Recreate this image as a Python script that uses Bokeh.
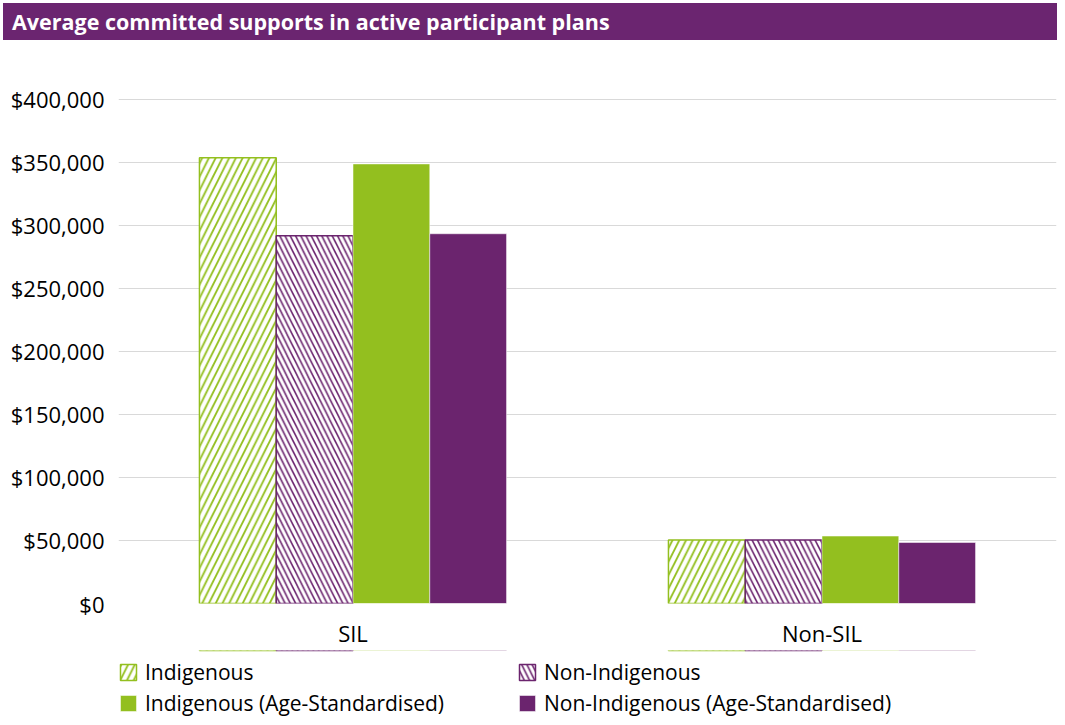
from bokeh.plotting import figure
from bokeh.models import (ColumnDataSource, Range1d, FactorRange, Legend, LegendItem,
                          NumeralTickFormatter, Div)
from bokeh.transform import dodge
from bokeh.layouts import column
from bokeh.embed import file_html
from bokeh.resources import INLINE

categories = ["SIL", "Non-SIL"]
indigenous = [353500, 50300]
non_indigenous = [291800, 50300]
indigenous_as = [348700, 53500]
non_indigenous_as = [293300, 48400]
series_labels = ["Indigenous", "Non-Indigenous",
                 "Indigenous (Age-Standardised)", "Non-Indigenous (Age-Standardised)"]
y_ticks = [0, 50000, 100000, 150000, 200000, 250000, 300000, 350000, 400000]

GREEN = "#93BF1F"
PURPLE = "#6B246E"
FONT = "Open Sans"

source = ColumnDataSource(dict(cat=categories, ind=indigenous, nonind=non_indigenous,
                               ind_as=indigenous_as, nonind_as=non_indigenous_as))

title = Div(text=('<div style="background:#6B2570;color:white;font-family:\'Open Sans\';'
                  'font-weight:bold;font-size:21.5px;height:37px;line-height:37px;'
                  'padding-left:9px;box-sizing:border-box;width:1054px;">'
                  'Average committed supports in active participant plans</div>'),
            width=1054, height=37, margin=(3, 0, 0, 3))

p = figure(x_range=FactorRange(*categories), y_range=Range1d(0, 400600),
           width=1057, height=610, output_backend="svg", toolbar_location=None,
           min_border_left=118, min_border_right=1, min_border_top=58, min_border_bottom=42)
p.outline_line_color = None

bw = 0.1637
offs = [-1.5 * bw, -0.5 * bw, 0.5 * bw, 1.5 * bw]
cols = ["ind", "nonind", "ind_as", "nonind_as"]

styles = [
    dict(fill_color="white", line_color=GREEN, line_width=1.5,
         hatch_pattern="/", hatch_color=GREEN, hatch_scale=13.5, hatch_weight=1.8),
    dict(fill_color="white", line_color=PURPLE, line_width=1.5,
         hatch_pattern="\\", hatch_color=PURPLE, hatch_scale=10.5, hatch_weight=1.6),
    dict(fill_color=GREEN, line_color="white", line_alpha=0.5, line_width=1),
    dict(fill_color=PURPLE, line_color="white", line_alpha=0.5, line_width=1),
]

for off, col, st in zip(offs, cols, styles):
    p.vbar(x=dodge("cat", off, range=p.x_range), top=col, width=bw, source=source, **st)

p.yaxis.ticker = y_ticks
p.yaxis.formatter = NumeralTickFormatter(format="$0,0")
for ax in (p.xaxis, p.yaxis):
    ax.axis_line_color = None
    ax.major_tick_line_color = None
    ax.minor_tick_line_color = None
    ax.major_label_text_font = FONT
    ax.major_label_text_font_size = "22px"
    ax.major_label_text_color = "#000000"
p.yaxis.major_label_standoff = 8
p.xaxis.major_label_standoff = 8
p.xgrid.grid_line_color = None
p.ygrid.grid_line_color = "#D9D9D9"
p.ygrid.grid_line_width = 1

# legend strip: a second figure whose y range lies away from its bars, so only the legend shows
lg = figure(width=1057, height=67, x_range=FactorRange(*categories),
            y_range=Range1d(-500000, -400000),
            output_backend="svg", toolbar_location=None,
            min_border_left=118, min_border_right=1, min_border_top=0, min_border_bottom=0)
lg.axis.visible = False
lg.grid.visible = False
lg.outline_line_color = None
proxies = [lg.vbar(x=dodge("cat", off, range=lg.x_range), top=col, width=bw,
                   source=source, **st)
           for off, col, st in zip(offs, cols, styles)]


def make_legend(items, loc):
    return Legend(items=items, orientation="horizontal", location=loc,
                  border_line_color=None, background_fill_alpha=0, padding=0,
                  margin=0, spacing=19,
                  glyph_width=20, glyph_height=20, label_standoff=7, label_width=353,
                  label_height=20, label_text_font=FONT, label_text_font_size="21px",
                  label_text_color="#000000")


leg1 = make_legend([LegendItem(label=series_labels[0], renderers=[proxies[0]]),
                    LegendItem(label=series_labels[1], renderers=[proxies[1]])], (0, 31))
leg2 = make_legend([LegendItem(label=series_labels[2], renderers=[proxies[2]]),
                    LegendItem(label=series_labels[3], renderers=[proxies[3]])], (0, 0))
lg.add_layout(leg1, "center")
lg.add_layout(leg2, "center")

open("out.html", "w").write(file_html(column(title, p, lg, spacing=0), INLINE))
